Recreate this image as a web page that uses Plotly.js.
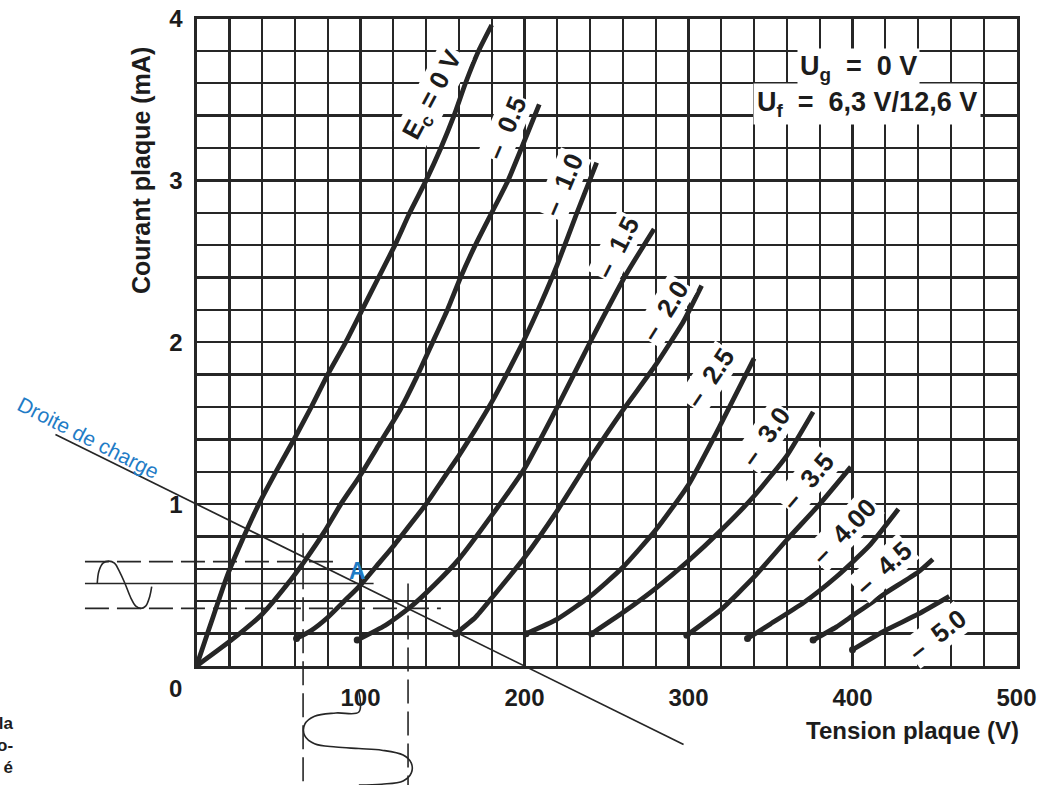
<!DOCTYPE html>
<html><head><meta charset="utf-8">
<script src="https://cdn.plot.ly/plotly-3.0.1.min.js"></script>
<style>html,body{margin:0;padding:0;background:#fff}#chart{width:1037px;height:785px}</style>
</head><body><div id="chart"></div>
<script>
// ---- Plate characteristics: plate voltage (V) vs plate current (mA) for grid voltages Ec
const ec0V  = [0, 5, 10, 15, 20, 28, 38, 49, 60, 70, 80, 91, 101, 111, 121, 130, 140, 149, 157, 164, 172, 180];
const ec0I  = [0, 0.15, 0.3, 0.45, 0.59, 0.78, 1.0, 1.21, 1.41, 1.6, 1.8, 2.0, 2.2, 2.4, 2.6, 2.8, 3.0, 3.2, 3.4, 3.6, 3.8, 3.96];
const ec05V = [0, 20, 40, 55, 66, 78, 88, 100, 112, 124, 134, 144, 153, 161, 170, 180, 190, 199, 209];
const ec05I = [0, 0.15, 0.32, 0.5, 0.65, 0.83, 1.0, 1.18, 1.38, 1.58, 1.78, 2.0, 2.2, 2.4, 2.6, 2.8, 3.0, 3.22, 3.47];
const ec10V = [61, 70, 80, 90, 100, 110, 120, 130, 140, 150, 160, 170, 180, 190, 200, 210, 220, 232, 244];
const ec10I = [0.17, 0.22, 0.3, 0.4, 0.5, 0.62, 0.74, 0.87, 1.0, 1.15, 1.3, 1.46, 1.63, 1.82, 2.02, 2.24, 2.48, 2.8, 3.11];
const ec15V = [98, 115, 130, 145, 160, 180, 200, 220, 240, 262, 279];
const ec15I = [0.16, 0.25, 0.36, 0.5, 0.66, 0.93, 1.22, 1.6, 2.0, 2.42, 2.7];
const ec20V = [158, 170, 180, 200, 220, 240, 260, 280, 297, 308];
const ec20I = [0.2, 0.3, 0.42, 0.67, 0.96, 1.28, 1.58, 1.86, 2.13, 2.35];
const ec25V = [201, 220, 240, 260, 280, 300, 320, 340];
const ec25I = [0.2, 0.29, 0.43, 0.61, 0.84, 1.12, 1.5, 1.9];
const ec30V = [241, 260, 280, 300, 320, 340, 360, 376];
const ec30I = [0.2, 0.33, 0.48, 0.65, 0.84, 1.05, 1.3, 1.57];
const ec35V = [299, 320, 340, 360, 380, 399];
const ec35I = [0.19, 0.35, 0.55, 0.78, 1.0, 1.23];
const ec40V = [336, 350, 370, 390, 410, 428];
const ec40I = [0.17, 0.26, 0.39, 0.55, 0.74, 0.97];
const ec45V = [376, 390, 400, 420, 440, 449];
const ec45I = [0.16, 0.24, 0.31, 0.45, 0.58, 0.66];
const ec50V = [400, 420, 440, 459];
const ec50I = [0.1, 0.22, 0.32, 0.43];

const curveLabels = ['E<sub>c</sub>\u00a0=\u00a00\u00a0V', '–\u00a0\u00a00.5', '–\u00a0\u00a01.0', '–\u00a0\u00a01.5', '–\u00a0\u00a02.0',
  '–\u00a0\u00a02.5', '–\u00a0\u00a03.0', '–\u00a0\u00a03.5', '–\u00a0\u00a04.00', '–\u00a0\u00a04.5', '–\u00a0\u00a05.0'];

// ---- Load line ("droite de charge") and operating point A
const loadV = [-86, 297];
const loadI = [1.43, -0.485];
const pointA = {v: 100, i: 0.5};

// ---- Signal construction lines
const swingIup = 0.645, swingImid = 0.51, swingIlow = 0.356;
const swingVleft = 65, swingVright = 129;
const upperLineV = [-68, 86];
const midLineV = [-68, 108];
const lowerLineV = [-68, 149];
const leftVertI = [0.82, -0.735];
const rightVertI = [0.51, -0.735];
// input grid signal (sine drawn horizontally at the left)
const waveInV = [-60.5, -59.5, -57, -53.5, -50, -47, -43.6, -40, -37, -34, -31, -28.5, -27.3];
const waveInI = [0.51, 0.585, 0.635, 0.648, 0.635, 0.585, 0.51, 0.42, 0.37, 0.356, 0.37, 0.43, 0.49];
// output plate-voltage signal (drawn vertically below the axis)
const waveOutV = [99, 99, 85, 72, 66, 66, 72, 85, 99, 113, 126, 131, 131, 126, 113, 99];
const waveOutI = [-0.16, -0.284, -0.29, -0.31, -0.36, -0.43, -0.48, -0.5, -0.51, -0.52, -0.55, -0.6, -0.66, -0.71, -0.73, -0.735];

// ---- Axis ticks
const xTickVals = [100, 200, 300, 400, 500];
const yTickVals = [1, 2, 3, 4];

// ================= drawing =================
const ink = '#262626';
const blue = '#1f7cc6';
const curves = [[ec0V,ec0I],[ec05V,ec05I],[ec10V,ec10I],[ec15V,ec15I],[ec20V,ec20I],[ec25V,ec25I],
                [ec30V,ec30I],[ec35V,ec35I],[ec40V,ec40I],[ec45V,ec45I],[ec50V,ec50I]];
const traces = curves.map(c => ({
  x: c[0], y: c[1], xaxis: 'x', yaxis: 'y', type: 'scatter', mode: 'lines',
  line: {color: ink, width: 4.8, shape: 'spline', smoothing: 0.5}, hoverinfo: 'skip'
}));
// rounded start dots of the curves that begin above zero current
const startCurves = curves.slice(2);
traces.push({x: startCurves.map(c => c[0][0]), y: startCurves.map(c => c[1][0]), xaxis: 'x', yaxis: 'y',
  type: 'scatter', mode: 'markers', marker: {color: ink, size: 7}, hoverinfo: 'skip', cliponaxis: false});
function seg(x, y, dash, w) {
  return {x: x, y: y, xaxis: 'x2', yaxis: 'y2', type: 'scatter', mode: 'lines',
    line: {color: ink, width: w || 1.6, dash: dash || 'solid'}, hoverinfo: 'skip'};
}
traces.push(seg(loadV, loadI, 'solid', 1.7));
traces.push(seg(upperLineV, [swingIup, swingIup], '24px,8px'));
traces.push(seg(midLineV, [swingImid, swingImid], 'solid'));
traces.push(seg(lowerLineV, [swingIlow, swingIlow], '24px,8px'));
traces.push(seg([swingVleft, swingVleft], leftVertI, '24px,8px'));
traces.push(seg([swingVright, swingVright], rightVertI, '24px,8px'));
const wi = seg(waveInV, waveInI, 'solid', 1.6); wi.line.shape = 'spline'; traces.push(wi);
const wo = seg(waveOutV, waveOutI, 'solid', 1.6); wo.line.shape = 'spline'; traces.push(wo);

const labelDx = [-58, -33, -34, -37, -37, -44, -48, -43, -54, -49, -12];
const labelDy = [70, 24, 22, 19, 25, 20, 25, 14, 22, 9, 39];
const labelAngle = [-62, -67, -67, -63, -58, -56, -55, -50, -46, -42, -38];
const FAM = 'Liberation Sans, Arial, sans-serif';
const bold = {family: FAM, size: 26, color: '#1c1c1c', weight: 700};
const annotations = curves.map((c, k) => ({
  x: c[0][c[0].length-1], y: c[1][c[1].length-1], xref: 'x', yref: 'y',
  xanchor: 'center', yanchor: 'middle',
  xshift: labelDx[k], yshift: -labelDy[k], text: curveLabels[k], textangle: labelAngle[k],
  showarrow: false, bgcolor: '#ffffff', borderpad: 1, font: bold
}));
function paperText(px, py, text, font, extra) {
  return Object.assign({x: px/1037, y: 1 - py/785, xref: 'paper', yref: 'paper', text: text,
    xanchor: 'center', yanchor: 'middle', showarrow: false, font: font}, extra || {});
}
annotations.push(paperText(867, 104, 'U<sub>f</sub>\u00a0\u00a0=\u00a0\u00a06,3\u00a0V/12,6\u00a0V', Object.assign({}, bold, {size: 27}),
  {bgcolor: '#fff', borderpad: 3}));
annotations.push(paperText(858, 68, 'U<sub>g</sub>\u00a0\u00a0=\u00a0\u00a00\u00a0V', Object.assign({}, bold, {size: 27}),
  {bgcolor: '#fff', borderpad: 2}));
annotations.push(paperText(141, 171, 'Courant plaque (mA)', Object.assign({}, bold, {size: 25}), {textangle: -90}));
annotations.push(paperText(912, 730, 'Tension plaque (V)', Object.assign({}, bold, {size: 24})));
annotations.push(paperText(88, 437, 'Droite de charge', {family: FAM, size: 21, color: blue}, {textangle: 27}));
annotations.push({x: pointA.v, y: pointA.i, xref: 'x', yref: 'y', xshift: -3, yshift: 14, text: 'A', showarrow: false,
  font: {family: FAM, size: 23, color: blue, weight: 700}});
annotations.push({x: 0, y: 0, xref: 'x', yref: 'y', xshift: -21, yshift: -22, text: '0', showarrow: false,
  font: Object.assign({}, bold, {size: 24})});
annotations.push(paperText(16, 745, 'la<br>o-<br>é', Object.assign({}, bold, {size: 17}), {xanchor: 'right', align: 'right'}));

const gridStyle = {showgrid: true, gridcolor: ink, gridwidth: 2.4};
const layout = {
  width: 1037, height: 785, margin: {l: 0, r: 0, t: 0, b: 0},
  paper_bgcolor: '#ffffff', plot_bgcolor: 'rgba(0,0,0,0)', showlegend: false,
  font: {family: FAM, color: '#1c1c1c'},
  xaxis: Object.assign({domain: [196.5/1037, 1016.5/1037], range: [0, 500], anchor: 'y',
    tickmode: 'array', tickvals: xTickVals, ticks: '', zeroline: false,
    minor: Object.assign({tickmode: 'linear', tick0: 0, dtick: 20, ticks: ''}, gridStyle),
    showline: true, mirror: true, linecolor: ink, linewidth: 3,
    tickfont: Object.assign({}, bold, {size: 24}), ticklabelstandoff: 8, fixedrange: true}, gridStyle),
  yaxis: Object.assign({domain: [(785-666)/785, (785-18.5)/785], range: [0, 4], anchor: 'x',
    tickmode: 'array', tickvals: yTickVals, ticks: '', zeroline: false,
    minor: Object.assign({tickmode: 'linear', tick0: 0, dtick: 0.2, ticks: ''}, gridStyle),
    showline: true, mirror: true, linecolor: ink, linewidth: 3,
    tickfont: Object.assign({}, bold, {size: 24}), ticklabelstandoff: 6, fixedrange: true}, gridStyle),
  xaxis2: {domain: [0, 1], range: [-119.8, 512.5], anchor: 'y2', visible: false, fixedrange: true},
  yaxis2: {domain: [0, 1], range: [-0.735, 4.114], anchor: 'x2', visible: false, fixedrange: true},
  annotations: annotations
};
Plotly.newPlot('chart', traces, layout, {displayModeBar: false, staticPlot: true});
</script></body></html>
